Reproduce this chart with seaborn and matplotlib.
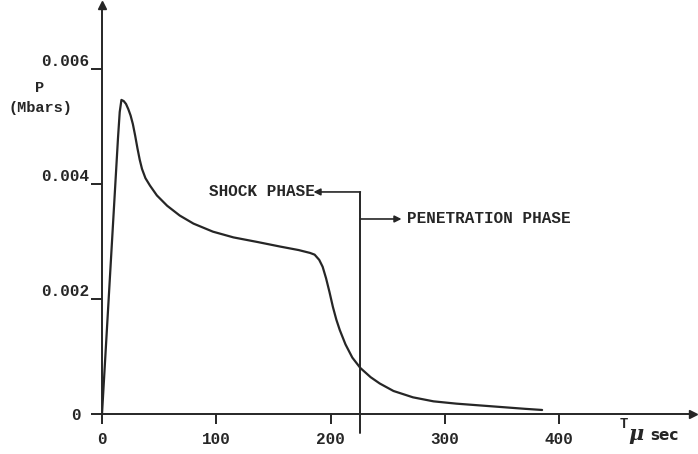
import numpy as np
import pandas as pd
import seaborn as sns
import matplotlib
matplotlib.use("Agg")
import matplotlib.pyplot as plt

# pressure pulse
t_us = [0, 14, 15.5, 17, 19, 21, 23, 25, 27, 29, 31, 33, 35, 38, 42, 48, 57, 68,
        80, 97, 115, 136, 156, 172, 182, 186, 190, 193, 196, 199, 202, 205, 208,
        213, 219, 226, 235, 243, 255, 272, 290, 310, 330, 350, 370, 385]
p_mbar = [0, 0.00480, 0.00525, 0.00546, 0.00544, 0.00539, 0.00530, 0.00519,
          0.00504, 0.00484, 0.00462, 0.00442, 0.00426, 0.00410, 0.00397, 0.00380,
          0.00362, 0.00345, 0.00331, 0.00317, 0.00307, 0.00299, 0.00291, 0.00285,
          0.00280, 0.00277, 0.00268, 0.00256, 0.00236, 0.00212, 0.00186, 0.00164,
          0.00146, 0.00121, 0.00098, 0.00080, 0.00064, 0.00053, 0.00040, 0.00029,
          0.00022, 0.00018, 0.00015, 0.00012, 0.00009, 0.00007]

x_ticks = [0, 100, 200, 300, 400]
y_ticks = [0, 0.002, 0.004, 0.006]
y_tick_labels = ["0", "0.002", "0.004", "0.006"]

phase_t = 226          # boundary between shock and penetration phase
shock_arrow = (185, 0.00386)
pen_arrow = (262, 0.00339)

df = pd.DataFrame({"t": t_us, "p": p_mbar})

sns.set_style("white")
plt.rcParams["font.family"] = ["Liberation Mono", "DejaVu Sans"]
plt.rcParams["font.weight"] = "bold"
ink = "#262626"

fig = plt.figure(figsize=(6.98, 4.54), dpi=100)
ax = fig.add_axes([102 / 698, 1 - 414 / 454, 591 / 698, 409 / 454])

sns.lineplot(data=df, x="t", y="p", sort=False, estimator=None,
             color=ink, lw=1.6, ax=ax)

ax.set_xlim(0, 517)
ax.set_ylim(0, 0.00711)
ax.set_xlabel("")
ax.set_ylabel("")

for s in ["top", "right"]:
    ax.spines[s].set_visible(False)
for s in ["left", "bottom"]:
    ax.spines[s].set_color(ink)
    ax.spines[s].set_linewidth(1.4)

# arrow heads on the axes
ax.plot(1, 0, ">", color=ink, ms=6, transform=ax.get_yaxis_transform(), clip_on=False)
ax.plot(0, 1, "^", color=ink, ms=6, transform=ax.get_xaxis_transform(), clip_on=False)

ax.set_xticks(x_ticks)
ax.set_xticklabels([str(v) for v in x_ticks], fontsize=11.5, color=ink)
ax.set_yticks(y_ticks)
ax.set_yticklabels(y_tick_labels, fontsize=11.5, color=ink)
ax.tick_params(axis="x", direction="out", length=7, width=1.4, color=ink, pad=6, bottom=True)
ax.tick_params(axis="y", direction="out", length=8, width=1.4, color=ink, pad=1, left=True)
for lab in ax.get_yticklabels()[1:]:
    lab.set_va("bottom")
ax.get_yticklabels()[0].set_x(-0.015)

# phase boundary
ax.plot([phase_t, phase_t], [-0.00033, shock_arrow[1]], color=ink, lw=1.4, clip_on=False)
ax.annotate("", xy=shock_arrow, xytext=(phase_t, shock_arrow[1]),
            arrowprops=dict(arrowstyle="-|>", color=ink, lw=1.2, mutation_scale=10,
                            shrinkA=0, shrinkB=0))
ax.annotate("", xy=pen_arrow, xytext=(phase_t, pen_arrow[1]),
            arrowprops=dict(arrowstyle="-|>", color=ink, lw=1.2, mutation_scale=10,
                            shrinkA=0, shrinkB=0))
ax.text(shock_arrow[0] + 1, shock_arrow[1], "SHOCK PHASE", ha="right", va="center",
        fontsize=11.5, color=ink)
ax.text(pen_arrow[0] + 5, pen_arrow[1], "PENETRATION PHASE", ha="left", va="center",
        fontsize=11.5, color=ink)

# axis titles
fig.text(40 / 698, 1 - 88 / 454, "P", ha="center", va="center", fontsize=11, color=ink)
fig.text(40 / 698, 1 - 108 / 454, "(Mbars)", ha="center", va="center", fontsize=11, color=ink)
fig.text(624 / 698, 1 - 424 / 454, "T", ha="center", va="center", fontsize=10, color=ink)
fig.text(636 / 698, 1 - 434 / 454, "\u03bc", ha="center", va="center", fontsize=15,
         color=ink, family=["DejaVu Serif"], style="italic")
fig.text(664 / 698, 1 - 435 / 454, "sec", ha="center", va="center", fontsize=11,
         color=ink, family=["DejaVu Sans"])

fig.savefig("out.png", dpi=100)
